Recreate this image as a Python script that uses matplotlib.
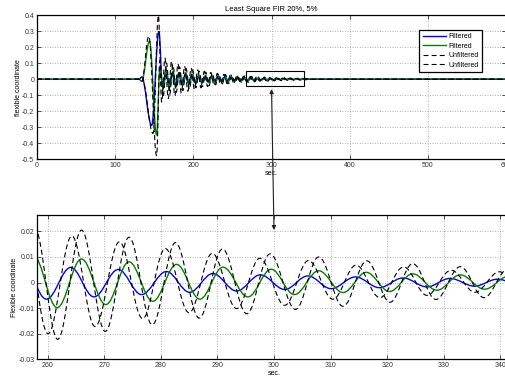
import matplotlib.pyplot as plt
import numpy as np
from matplotlib.path import Path
from matplotlib.patches import PathPatch, Rectangle, ConnectionPatch
from matplotlib.lines import Line2D

plt.rcParams['font.family'] = ['Liberation Sans', 'DejaVu Sans']
plt.rcParams['axes.unicode_minus'] = False

# extrema of each response (sec, value)
blue_t = [0, 130, 134, 146.6, 156.0, 160.5, 164.6, 168.8, 172.9, 177.0, 181.2, 185.3, 189.5,
          193.6, 197.7, 201.9, 206.0, 210.2, 214.3, 218.4, 222.6, 226.7, 230.8, 235.0, 239.1,
          243.3, 247.4, 251.5, 255.7, 259.8, 264.1, 268.2, 272.5, 276.6, 281.0, 285.1, 289.2,
          293.4, 297.6, 301.9, 306.0, 310.1, 314.4, 318.6, 322.8, 327.0, 331.1, 335.4, 339.5,
          343.7, 350, 600]
blue_v = [0, 0, 0.012, -0.29, 0.30, -0.049, 0.045, -0.041, 0.038, -0.035, 0.032, -0.030, 0.027,
          -0.025, 0.023, -0.021, 0.019, -0.018, 0.016, -0.015, 0.014, -0.013, 0.012, -0.011, 0.010,
          -0.009, 0.0083, -0.0076, 0.0070, -0.0065, 0.0059, -0.0056, 0.0051, -0.0047, 0.0043,
          -0.0038, 0.0035, -0.0033, 0.0030, -0.0027, 0.0026, -0.0024, 0.0022, -0.0020, 0.0018,
          -0.0017, 0.0016, -0.0014, 0.0013, -0.0012, 0, 0]

green_t = [0, 130, 134, 144.0, 153.0, 157.2, 161.4, 165.5, 169.7, 173.9, 178.1, 182.3, 186.4,
           190.6, 194.8, 199.0, 203.2, 207.3, 211.5, 215.7, 219.9, 224.1, 228.2, 232.4, 236.6,
           240.8, 245.0, 249.1, 253.3, 257.5, 261.7, 266.0, 270.3, 274.4, 278.6, 282.8, 286.9,
           291.0, 295.4, 299.5, 303.6, 307.9, 312.2, 316.3, 320.4, 324.5, 328.8, 332.9, 337.2,
           341.4, 350, 600]
green_v = [0, 0, -0.012, 0.238, -0.35, 0.07, -0.059, 0.055, -0.051, 0.047, -0.044, 0.041, -0.038,
           0.035, -0.033, 0.030, -0.028, 0.026, -0.024, 0.022, -0.021, 0.019, -0.018, 0.017,
           -0.015, 0.014, -0.013, 0.012, -0.011, 0.0106, -0.0098, 0.0092, -0.0086, 0.0081,
           -0.0073, 0.0071, -0.0065, 0.0060, -0.0056, 0.0052, -0.0047, 0.0046, -0.0039, 0.0040,
           -0.0035, 0.0034, -0.0030, 0.0030, -0.0026, 0.0024, 0, 0]

unf1_t = [0, 130, 134, 148.5, 155.3, 159.5, 163.7, 167.9, 172.1, 176.3, 180.4, 184.6, 188.8,
          193.0, 197.2, 201.4, 205.6, 209.8, 214.0, 218.2, 222.3, 226.5, 230.7, 234.9, 239.1,
          243.3, 247.5, 251.7, 255.9, 260.1, 264.3, 268.4, 272.7, 276.8, 280.8, 285.0, 289.1,
          293.4, 297.5, 301.9, 306.1, 310.4, 314.5, 318.7, 322.9, 327.0, 331.3, 335.5, 339.8,
          344.0, 350, 600]
unf1_v = [0, 0, 0.015, -0.34, 0.40, -0.144, 0.132, -0.122, 0.112, -0.104, 0.096, -0.088, 0.081,
          -0.075, 0.069, -0.063, 0.058, -0.054, 0.049, -0.046, 0.042, -0.039, 0.036, -0.033,
          0.030, -0.028, 0.026, -0.024, 0.022, -0.020, 0.0182, -0.0172, 0.0159, -0.0141, 0.0133,
          -0.0118, 0.0114, -0.0102, 0.0095, -0.0089, 0.0086, -0.0065, 0.0068, -0.0059, 0.0061,
          -0.0050, 0.0048, -0.0038, 0.0042, -0.0035, 0, 0]

unf2_t = [0, 130, 134, 143.0, 153.0, 157.2, 161.4, 165.6, 169.8, 173.9, 178.1, 182.3, 186.5,
          190.7, 194.9, 199.1, 203.3, 207.4, 211.6, 215.8, 220.0, 224.2, 228.4, 232.6, 236.8,
          241.0, 245.1, 249.3, 253.5, 257.7, 261.8, 266.0, 270.2, 274.4, 278.5, 282.6, 286.8,
          290.9, 295.2, 299.3, 303.8, 307.9, 312.2, 316.4, 320.5, 324.5, 328.6, 332.9, 337.1,
          341.3, 350, 600]
unf2_v = [0, 0, -0.015, 0.27, -0.48, 0.118, -0.110, 0.102, -0.095, 0.089, -0.083, 0.077, -0.072,
          0.067, -0.062, 0.058, -0.054, 0.050, -0.047, 0.044, -0.041, 0.038, -0.035, 0.033,
          -0.031, 0.029, -0.027, 0.025, -0.023, 0.0215, -0.0222, 0.0205, -0.0191, 0.0177,
          -0.0165, 0.0156, -0.0139, 0.0131, -0.0122, 0.0112, -0.0105, 0.0100, -0.0093, 0.0085,
          -0.0077, 0.0074, -0.0066, 0.0062, -0.0059, 0.0052, 0, 0]

series = [
    (blue_t, blue_v, 'Filtered', (0, 0, 1), '-'),
    (green_t, green_v, 'Filtered', (0, 0.5, 0), '-'),
    (unf1_t, unf1_v, 'Unfiltered', 'k', (0, (4.5, 2.8))),
    (unf2_t, unf2_v, 'Unfiltered', 'k', (0, (4.5, 2.8))),
]

top_xticks = [0, 100, 200, 300, 400, 500, 600]
top_yticks = [-0.5, -0.4, -0.3, -0.2, -0.1, 0, 0.1, 0.2, 0.3, 0.4]
top_ylabels = ['-0.5', '-0.4', '-0.3', '-0.2', '-0.1', '0', '0.1', '0.2', '0.3', '0.4']
bot_xticks = [260, 270, 280, 290, 300, 310, 320, 330, 340]
bot_yticks = [-0.03, -0.02, -0.01, 0, 0.01, 0.02]
bot_ylabels = ['-0.03', '-0.02', '-0.01', '0', '0.01', '0.02']

zoom_box = (267, -0.045, 341, 0.05)   # x0, y0, x1, y1 in top axes
arrow_x = 300
arrow_top_y = -0.062
arrow_bot_y = 0.0205


def wave_path(t, v, c=0.364):
    # smooth curve through the extrema, flat tangent at each one
    verts = [(t[0], v[0])]
    codes = [Path.MOVETO]
    for i in range(1, len(t)):
        dt = t[i] - t[i - 1]
        verts += [(t[i - 1] + c * dt, v[i - 1]), (t[i] - c * dt, v[i]), (t[i], v[i])]
        codes += [Path.CURVE4] * 3
    return Path(verts, codes)


def style(ax):
    ax.tick_params(direction='in', top=True, right=True, length=3, width=0.6,
                   labelsize=5, pad=2, colors='#333333')
    ax.grid(True, linestyle=(0, (1, 2)), color='#999999', lw=0.6)
    for s in ax.spines.values():
        s.set_linewidth(0.9)


fig = plt.figure(figsize=(5.05, 3.76), dpi=100)
ax1 = fig.add_axes([0.0733, 0.5771, 0.9287, 0.3822])
ax2 = fig.add_axes([0.0739, 0.0444, 0.9395, 0.3838])

for ax in (ax1, ax2):
    for t, v, lab, col, ls in series:
        lw = 1.0 if ls == '-' else 0.8
        ax.add_patch(PathPatch(wave_path(t, v), fill=False, edgecolor=col,
                               linestyle=ls, lw=lw, zorder=2))
    style(ax)

ax1.set_xlim(0, 600)
ax1.set_ylim(-0.5, 0.4)
ax1.set_xticks(top_xticks)
ax1.set_yticks(top_yticks)
ax1.set_yticklabels(top_ylabels)
ax1.set_title('Least Square FIR 20%, 5%', fontsize=5.5, pad=3)
ax1.set_xlabel('sec.', fontsize=5, labelpad=1)
ax1.set_ylabel('flexible coordinate', fontsize=5, labelpad=0)

ax2.set_xlim(258.2, 342)
ax2.set_ylim(-0.03, 0.0264)
ax2.set_xticks(bot_xticks)
ax2.set_yticks(bot_yticks)
ax2.set_yticklabels(bot_ylabels)
ax2.set_xlabel('sec.', fontsize=5, labelpad=1)
ax2.set_ylabel('Flexible coordinate', fontsize=5, labelpad=0)

handles = [Line2D([], [], color=col, lw=1.0 if ls == '-' else 0.8, linestyle=ls)
           for t, v, lab, col, ls in series]
leg = ax1.legend(handles, [s[2] for s in series], loc='upper right',
                 bbox_to_anchor=(0.949, 0.898), fontsize=5, fancybox=False,
                 framealpha=1, edgecolor='k', handlelength=3.3, handletextpad=0.4,
                 labelspacing=0.35, borderpad=0.5, borderaxespad=0)
leg.get_frame().set_linewidth(0.9)

x0, y0, x1, y1 = zoom_box
ax1.add_patch(Rectangle((x0, y0), x1 - x0, y1 - y0, fill=False, ec='k', lw=0.8, zorder=3))

con = ConnectionPatch(xyA=(arrow_x, arrow_top_y), coordsA=ax1.transData,
                      xyB=(arrow_x, arrow_bot_y), coordsB=ax2.transData,
                      arrowstyle='<|-|>', mutation_scale=6, color='#222222', lw=0.8)
fig.add_artist(con)

fig.savefig('out.png', dpi=100)
